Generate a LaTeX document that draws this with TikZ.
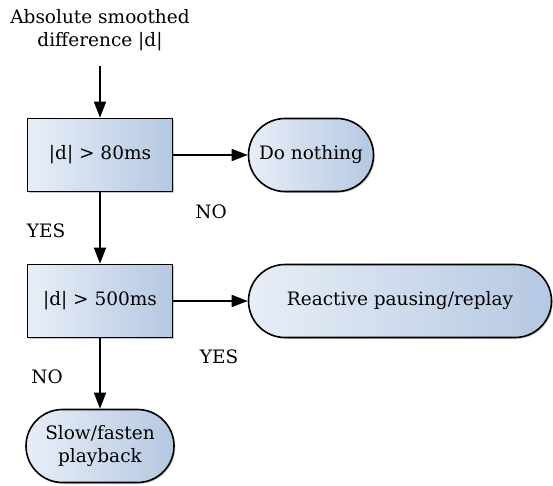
\documentclass[tikz,border=0pt]{standalone}
\usepackage{fontspec}
\setmainfont{DejaVu Serif}
\usetikzlibrary{arrows.meta,shapes.misc,shadows}
\definecolor{fillL}{HTML}{E8EEF7}
\definecolor{fillR}{HTML}{B5C8E2}
\tikzset{
  base/.style={draw=black, line width=1.6pt, left color=fillL, right color=fillR,
    shading angle=90, drop shadow={shadow xshift=1.3pt, shadow yshift=-1.3pt, opacity=0.45, fill=gray},
    inner sep=0pt, align=center},
  decision/.style={base, rectangle, minimum width=145pt, minimum height=73pt},
  outcome/.style={base, rounded rectangle, minimum height=73pt},
  flow/.style={line width=1.5pt, -{Triangle[length=16pt,width=12pt]}},
  lbl/.style={inner sep=0pt},
  every node/.style={font=\fontsize{18.5}{23.5}\selectfont}
}
\begin{document}
\begin{tikzpicture}[x=1pt,y=-1pt]
  \useasboundingbox (0,0) rectangle (553,486);
  % input
  \node[lbl, align=center] (in) at (100,30) {Absolute smoothed\\difference |d|};
  \coordinate (inend) at (100,66);
  % first test
  \node[decision] (t1) at (100,155) {|d| > 80ms};
  \node[outcome, minimum width=125pt] (none) at (311,155) {Do nothing};
  % second test
  \node[decision] (t2) at (100,301) {|d| > 500ms};
  \node[outcome, minimum width=303pt] (react) at (400,301) {Reactive pausing/replay};
  % third outcome
  \node[outcome, minimum width=148pt] (slow) at (100,446) {Slow/fasten\\playback};
  % connectors
  \draw[flow] (inend) -- (t1.north);
  \draw[flow] (t1.east) -- (none.west);
  \draw[flow] (t1.south) -- (t2.north);
  \draw[flow] (t2.east) -- (react.west);
  \draw[flow] (t2.south) -- (slow.north);
  % branch labels
  \node[lbl] at (211,212) {NO};
  \node[lbl] at (46,231) {YES};
  \node[lbl] at (219,357) {YES};
  \node[lbl] at (47,377) {NO};
\end{tikzpicture}
\end{document}
